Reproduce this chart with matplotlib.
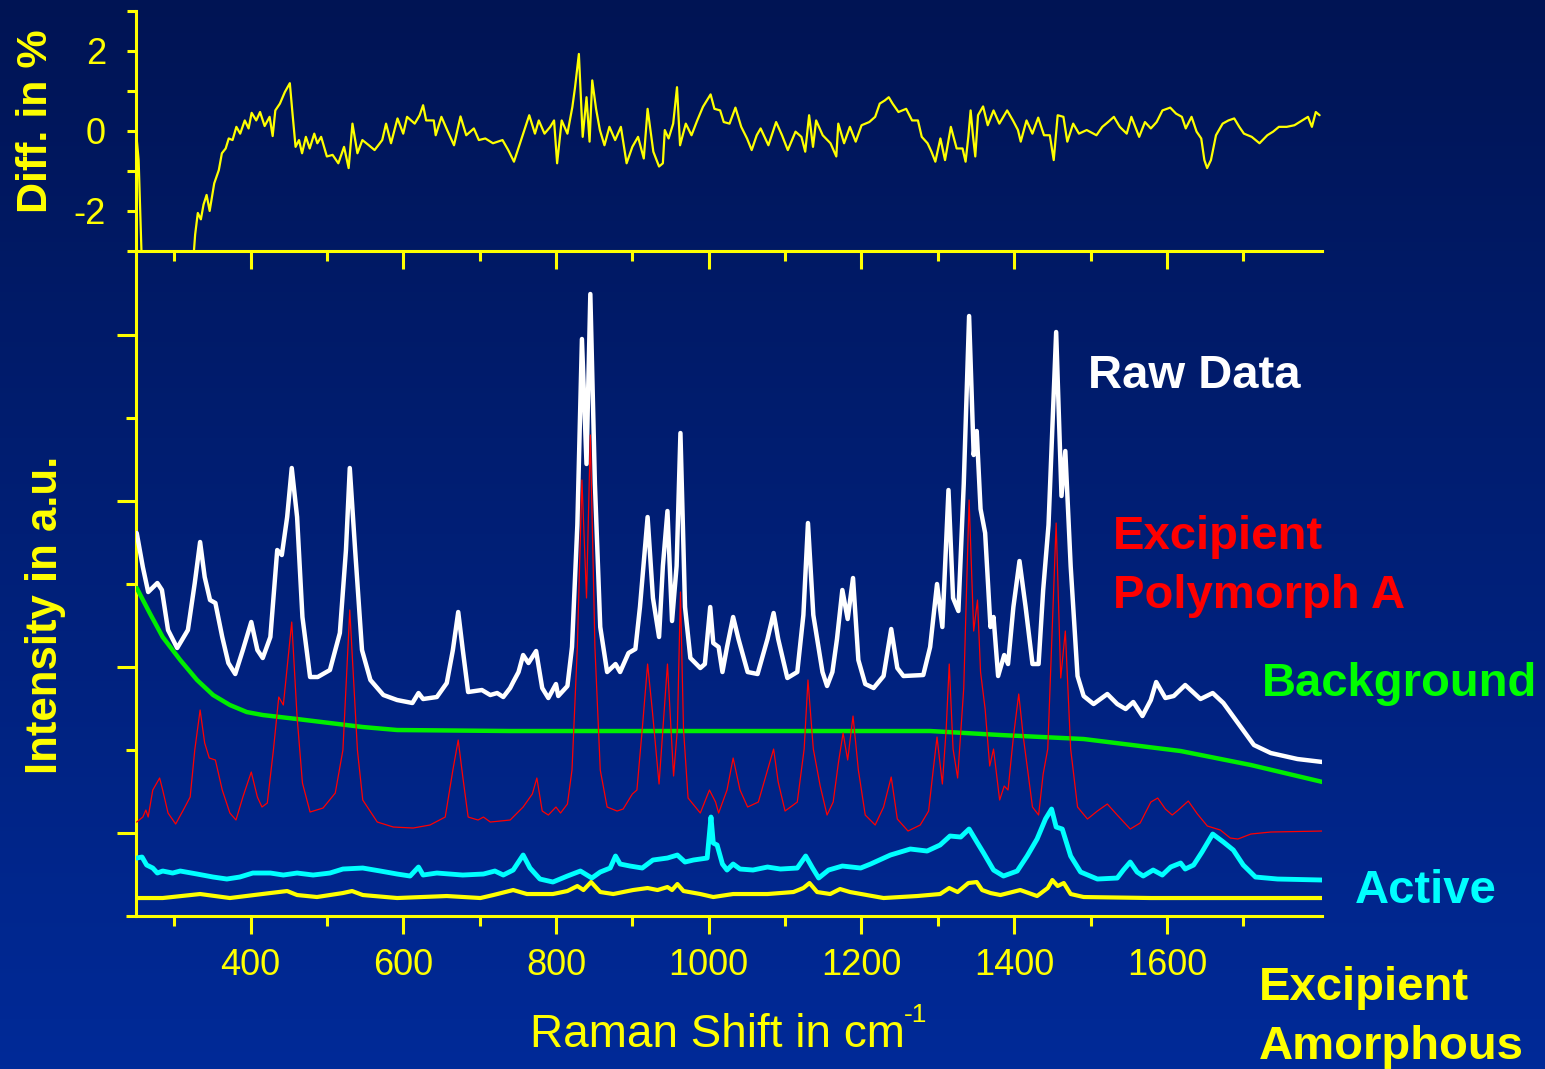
import numpy as np
import matplotlib
matplotlib.use("Agg")
import matplotlib.pyplot as plt

plt.rcParams["font.family"] = ["Liberation Sans", "DejaVu Sans"]
plt.rcParams["axes.unicode_minus"] = False

YELLOW = "#ffff00"

# ---- top panel: difference in % ----
diff_x = [250, 253.5, 258, 324, 327.5, 331, 335, 338.5, 342.5, 346.5, 352.5, 358.5, 362.5,
          367.5, 371.5, 376.5, 381.5, 386.5, 392.5, 397.5, 401.5, 407.5, 412.5, 418.5, 425,
          429, 432.5, 438.5, 445, 451.5, 455, 459, 463.5, 467.5, 472.5, 477.5, 483.5, 487.5,
          492.5, 500, 507.5, 515, 522.5, 528.5, 533.5, 540, 546.5, 555, 562.5, 572.5, 577.5,
          584, 592.5, 600, 605, 615, 621.5, 626, 630, 640, 642.5, 650, 657.5, 666.5, 675,
          682.5, 692.5, 699, 707.5, 717.5, 730, 737.5, 745, 755, 765, 772.5, 777.5, 785,
          792.5, 797.5, 801.5, 807.5, 815, 821.5, 825, 830, 835, 840, 844, 847.5, 852.5,
          857.5, 863.5, 870, 877.5, 885, 892.5, 900, 907.5, 915, 920, 927.5, 935, 940,
          942.5, 947.5, 953.5, 958.5, 962.5, 970, 977.5, 985, 992.5, 1002.5, 1007.5, 1015,
          1019.7, 1027.3, 1035, 1042.6, 1050.2, 1056.3, 1062.9, 1068, 1078.2, 1088.3, 1096,
          1103.6, 1113.7, 1121.4, 1126.4, 1131.5, 1136.6, 1140.7, 1149.3, 1159.5, 1167.1,
          1169.7, 1177.3, 1184.9, 1192.5, 1200.2, 1210.3, 1218, 1224, 1230.7, 1235.8,
          1240.8, 1248.5, 1258.6, 1266.3, 1274, 1279, 1286.6, 1291.7, 1296.8, 1303.4,
          1309.5, 1317.1, 1324.7, 1332.4, 1336.4, 1340, 1343, 1346, 1349.1, 1352.7, 1359.3,
          1365.4, 1373, 1380.6, 1390.8, 1398.4, 1405, 1408.6, 1416.2, 1423.9, 1431.5,
          1439.1, 1446.7, 1451.8, 1457, 1464.5, 1469.6, 1477.3, 1484.9, 1495, 1507.8,
          1515.4, 1523, 1530.6, 1538.3, 1547.4, 1553.5, 1563.7, 1571.3, 1579, 1586.6,
          1594.2, 1604.4, 1612, 1619.6, 1624.7, 1632.3, 1638.9, 1645, 1649.1, 1652.7,
          1657.7, 1664.3, 1673, 1680.6, 1688.2, 1694.8, 1700.9, 1711.1, 1721.3, 1731.5,
          1739.1, 1746.7, 1756.9, 1767, 1777.2, 1784.8, 1789.9, 1795, 1800]
diff_y = [0.0, -0.73, -3.5, -3.5, -2.59, -2.05, -2.21, -1.84, -1.60, -2.0, -1.31, -0.98, -0.56,
          -0.44, -0.19, -0.23, 0.10, -0.07, 0.26, 0.06, 0.45, 0.26, 0.47, 0.12, 0.35,
          -0.13, 0.51, 0.68, 0.97, 1.19, 0.43, -0.40, -0.23, -0.56, -0.15, -0.44, -0.07, -0.31,
          -0.15, -0.64, -0.60, -0.81, -0.40, -0.93, 0.18, -0.56, -0.23, -0.36, -0.48, -0.23, 0.18,
          -0.31, 0.31, -0.07, 0.35, 0.18, 0.39, 0.64, 0.26, 0.26, -0.11, 0.35, 0.02, -0.36, 0.36,
          -0.11, 0.06, -0.23, -0.19, -0.31, -0.23, -0.48, -0.77, -0.19, 0.39, -0.07, 0.26, -0.07,
          0.10, 0.26, -0.81, 0.26, -0.07, 0.60, 1.09, 1.92, -0.15, 0.84, -0.27, 1.26, 0.55,
          0.02, -0.36, 0.10, -0.23, 0.10, -0.81, -0.40, -0.15, -0.69, 0.55, -0.52, -0.89, -0.81,
          0.02, -0.19, 0.18, 1.09, -0.36, 0.18, -0.11, 0.26, 0.60, 0.91, 0.55, 0.51,
          0.22, 0.18, 0.58, 0.10, -0.19, -0.48, -0.11, 0.06, -0.36, 0.22, -0.11,
          -0.48, -0.02, -0.15, -0.52, 0.39, -0.40, 0.26, -0.11, -0.31, -0.64,
          0.18, -0.31, 0.10, -0.27, 0.14, 0.22, 0.35, 0.68, 0.76, 0.84,
          0.68, 0.47, 0.55, 0.26, 0.26, -0.15, -0.31, -0.52, -0.77, -0.19,
          -0.73, 0.10, -0.44, -0.44, -0.77, -0.15, 0.51, -0.11, -0.64, 0.39, 0.61,
          0.14, 0.51, 0.18, 0.51, 0.26, 0.02, -0.27, 0.26, -0.07, 0.33,
          -0.11, -0.11, -0.73, 0.39, 0.35, -0.27, 0.18, -0.07, 0.02, -0.11,
          0.10, 0.22, 0.35, 0.10, -0.07, 0.35, -0.15, 0.22, 0.06, 0.22,
          0.51, 0.58, 0.43, 0.35, 0.06, 0.35, -0.02, -0.19, -0.73, -0.93,
          -0.73, -0.11, 0.18, 0.26, 0.31, 0.10, -0.07, -0.15, -0.31, -0.11,
          -0.02, 0.10, 0.10, 0.14, 0.26, 0.35, 0.10, 0.47, 0.39]

# ---- bottom panel: spectra (Raman shift in cm-1, intensity in a.u.) ----
raw_x = [251, 259, 266, 278, 284, 292, 304, 318, 327, 334, 340, 347, 354, 363, 371, 380, 390,
         401, 409, 416, 426, 435, 441, 448, 454, 461, 468, 478, 488, 504, 517, 525, 530, 537,
         546, 557, 574, 592, 612, 620, 626, 644, 657, 665, 672, 678, 685, 703, 714, 723, 731,
         740, 744, 751, 757, 764, 774, 782, 790, 800, 803, 815, 821, 828, 834, 840, 845, 851,
         858, 867, 878, 884, 895, 904, 910, 920, 927, 935, 940, 946, 952, 958, 963, 969, 976,
         989, 995, 1002, 1006, 1013, 1018, 1024, 1032, 1039, 1051, 1064, 1077, 1085, 1091,
         1103, 1116, 1124, 1130, 1137, 1149, 1155, 1162, 1168, 1175, 1182, 1189, 1196, 1205,
         1216, 1229, 1239, 1247, 1255, 1281, 1290, 1299, 1306, 1314, 1320, 1327, 1334, 1341,
         1347, 1351, 1356, 1362, 1369, 1373, 1379, 1387, 1392, 1399, 1407, 1415, 1424, 1432,
         1438, 1445, 1455, 1462, 1467, 1474, 1483, 1491, 1504, 1522, 1535, 1546, 1556, 1568,
         1579, 1586, 1598, 1609, 1624, 1644, 1660, 1674, 1693, 1714, 1736, 1771, 1804]
raw_y = [383, 349, 324, 333, 326, 286, 268, 286, 333, 374, 339, 316, 313, 279, 253, 242, 266,
         294, 266, 258, 279, 366, 361, 399, 448, 399, 299, 239, 239, 246, 283, 366, 448, 366,
         266, 236, 221, 216, 213, 223, 217, 219, 233, 266, 304, 266, 224, 226, 221, 223, 219,
         228, 234, 244, 261, 253, 265, 228, 218, 232, 220, 230, 269, 391, 577, 452, 622, 432,
         289, 244, 252, 244, 263, 267, 309, 399, 318, 279, 350, 405, 295, 350, 483, 309, 258,
         248, 252, 309, 273, 269, 244, 269, 299, 277, 244, 242, 277, 303, 277,
         238, 244, 301, 393, 301, 244, 230, 244, 277, 326, 297, 338, 256, 232,
         228, 240, 287, 248, 240, 241, 269, 332, 289, 426, 318, 305, 432, 600,
         461, 485, 407, 383, 289, 299, 240, 261, 252, 309, 355, 309, 252, 252,
         326, 391, 584, 420, 465, 350, 240, 220, 212, 222, 212, 207, 214, 200,
         216, 234, 218, 220, 231, 217, 223, 213, 193, 171, 163, 157, 154]

polyA_x = [251, 259, 263, 266, 272, 281, 285, 292, 302, 312, 321, 327, 334, 340, 346, 354, 363,
           373, 381, 390, 401, 409, 415, 422, 430, 437, 443, 454, 461, 468, 478, 495, 511, 521,
           530, 540, 547, 566, 587, 613, 635, 655, 665, 672, 678, 685, 698, 705, 714, 740, 757,
           769, 775, 782, 790, 800, 806, 815, 821, 828, 834, 840, 845, 851, 858, 867, 880, 888,
           900, 906, 913, 920, 926, 935, 940, 946, 954, 959, 963, 967, 973, 989, 1001, 1009,
           1013, 1024, 1032, 1041, 1051, 1065, 1077, 1085, 1091, 1100, 1116, 1125, 1130, 1137,
           1146, 1155, 1163, 1170, 1176, 1182, 1189, 1196, 1205, 1218, 1229, 1239, 1247, 1261,
           1277, 1288, 1294, 1299, 1306, 1311, 1315, 1320, 1326, 1334, 1341, 1347, 1352, 1356,
           1362, 1368, 1373, 1381, 1387, 1392, 1399, 1406, 1412, 1424, 1432, 1438, 1444, 1447,
           1455, 1461, 1467, 1474, 1483, 1496, 1509, 1522, 1535, 1552, 1565, 1579, 1588, 1598,
           1607, 1615, 1628, 1640, 1653, 1670, 1683, 1693, 1710, 1736, 1804]
polyA_y = [94, 99, 106, 99, 126, 138, 126, 103, 92, 106, 119, 166, 206, 173, 158, 156, 126,
           103, 96, 119, 144, 119, 109, 113, 166, 219, 211, 294, 199, 133, 104, 108, 123, 166,
           306, 166, 116, 94, 89, 88, 91, 99, 146, 176, 139, 99, 96, 99, 94, 96, 109,
           122, 138, 105, 101, 109, 103, 112, 146, 269, 436, 318, 481, 269, 146, 109, 105, 107,
           122, 126, 187, 252, 207, 132, 187, 252, 140, 187, 324, 187, 118, 103, 126, 114,
           103, 126, 158, 126, 109, 114, 146, 167, 134, 105, 114, 167, 236, 167,
           130, 101, 114, 154, 183, 156, 200, 146, 101, 91, 109, 139, 97, 85,
           91, 105, 146, 179, 132, 187, 252, 167, 138, 228, 416, 285, 316, 244,
           207, 150, 167, 116, 130, 126, 179, 222, 179, 109, 101, 142, 167, 228,
           393, 238, 285, 167, 109, 97, 105, 112, 101, 87, 93, 114, 118, 107,
           101, 106, 115, 102, 90, 86, 78, 77, 82, 84, 85]

bg_x = [251, 268, 285, 308, 330, 351, 373, 395, 416, 461, 504, 547, 592, 740, 1290, 1382,
        1491, 1618, 1710, 1804]
bg_y = [328, 303, 279, 256, 236, 221, 211, 204, 201, 197, 193, 189, 186, 185, 185, 181,
        177, 165, 151, 134]

active_x = [251, 258, 264, 272, 278, 285, 298, 308, 330, 351, 369, 386, 403, 426, 443, 461,
            482, 504, 521, 547, 570, 592, 609, 620, 626, 644, 678, 705, 720, 731, 744, 757,
            766, 779, 796, 815, 832, 847, 858, 871, 878, 884, 897, 913, 927, 946, 959, 969,
            980, 998, 1003, 1006, 1011, 1018, 1024, 1032, 1041, 1058, 1077, 1094, 1116, 1127,
            1136, 1144, 1157, 1175, 1199, 1212, 1238, 1264, 1286, 1303, 1316, 1330, 1341, 1352,
            1360, 1373, 1386, 1404, 1417, 1430, 1441, 1449, 1455, 1463, 1474, 1487, 1509, 1535,
            1543, 1552, 1561, 1569, 1582, 1594, 1605, 1618, 1624, 1635, 1646, 1660, 1674, 1687,
            1700, 1716, 1745, 1804]
active_y = [58, 59, 51, 48, 43, 45, 43, 45, 42, 39, 37, 39, 43, 43, 41, 43,
            41, 43, 47, 48, 45, 42, 40, 49, 41, 43, 41, 42, 45, 41, 46, 61,
            48, 37, 34, 40, 45, 38, 44, 48, 60, 52, 50, 48, 56, 58, 61, 54,
            56, 58, 99, 73, 71, 52, 46, 52, 47, 46, 49, 47, 48, 60,
            48, 38, 46, 50, 48, 52, 61, 67, 65, 71, 80, 79, 87, 73,
            63, 46, 40, 45, 60, 77, 97, 107, 89, 87, 60, 44, 37, 38,
            46, 54, 44, 40, 46, 41, 49, 53, 47, 51, 64, 82, 74, 66,
            51, 39, 37, 36]

amorph_x = [251, 285, 334, 373, 426, 448, 461, 487, 521, 533, 547, 592, 657, 701, 718, 744,
            762, 796, 815, 828, 836, 846, 858, 875, 901, 920, 933, 946, 952, 959, 967, 989,
            1006, 1032, 1077, 1111, 1124, 1132, 1142, 1159, 1172, 1185, 1229, 1273, 1303, 1315,
            1326, 1340, 1351, 1358, 1369, 1382, 1408, 1430, 1444, 1450, 1457, 1465, 1474, 1491,
            1579, 1804]
amorph_y = [18, 18, 22, 18, 23, 25, 21, 19, 23, 25, 21, 18, 20, 18, 21, 26,
            22, 22, 25, 30, 26, 34, 24, 22, 26, 28, 26, 29, 26, 32, 25, 22,
            19, 22, 22, 24, 28, 33, 24, 22, 27, 24, 18, 20, 22, 28,
            24, 33, 34, 26, 23, 21, 26, 20, 28, 36, 30, 33, 22, 19,
            18, 18]

x_major = [400, 600, 800, 1000, 1200, 1400, 1600]
x_minor = [300, 500, 700, 900, 1100, 1300, 1500, 1700]

fig = plt.figure(figsize=(15.45, 10.69), dpi=100)

# gradient background
bg_ax = fig.add_axes([0, 0, 1, 1], zorder=-10)
grad = np.linspace(0, 1, 256).reshape(-1, 1)
top_c = np.array([0, 20, 84]) / 255
bot_c = np.array([0, 42, 152]) / 255
img = top_c + (bot_c - top_c) * grad[:, :, None]
bg_ax.imshow(img, aspect="auto", extent=[0, 1, 0, 1], origin="upper")
bg_ax.axis("off")

ax1 = fig.add_axes([0.0880, 0.7652, 0.7676, 0.2248])
ax2 = fig.add_axes([0.0880, 0.1431, 0.7676, 0.6221])

for ax in (ax1, ax2):
    ax.set_facecolor("none")
    ax.spines["top"].set_visible(False)
    ax.spines["right"].set_visible(False)
    for s in ("left", "bottom"):
        ax.spines[s].set_color(YELLOW)
        ax.spines[s].set_linewidth(2.2)
    ax.set_xlim(250, 1803)
    ax.set_xticks(x_major)
    ax.set_xticks(x_minor, minor=True)

line_kw = dict(solid_joinstyle="round", solid_capstyle="round")

# top panel
ax1.plot(diff_x, diff_y, color=YELLOW, lw=1.6, **line_kw)
ax1.set_ylim(-3, 3)
ax1.set_yticks([-2, 0, 2])
ax1.set_yticks([-3, -1, 1, 3], minor=True)
ax1.tick_params(axis="y", which="both", direction="out", length=6.5, width=2.2,
                color=YELLOW, labelcolor=YELLOW, labelsize=26, pad=15)
ax1.tick_params(axis="x", which="major", direction="out", length=13, width=2.2,
                color=YELLOW, labelbottom=False)
ax1.tick_params(axis="x", which="minor", direction="out", length=7, width=2.2, color=YELLOW)

# bottom panel
ax2.plot(raw_x, raw_y, color="white", lw=3.2, zorder=3, **line_kw)
ax2.plot(bg_x, bg_y, color="#00ee00", lw=3.2, zorder=4, **line_kw)
ax2.plot(polyA_x, polyA_y, color="red", lw=0.9, zorder=5)
ax2.plot(active_x, active_y, color="cyan", lw=3.5, zorder=6, **line_kw)
ax2.plot(amorph_x, amorph_y, color=YELLOW, lw=3.0, zorder=7, **line_kw)
ax2.set_ylim(0, 665)
ax2.set_yticks([83, 249, 415, 581])
ax2.set_yticks([0, 166, 332, 498], minor=True)
ax2.tick_params(axis="y", which="major", direction="out", length=13.7, width=2.2,
                color=YELLOW, labelleft=False)
ax2.tick_params(axis="y", which="minor", direction="out", length=7, width=2.2, color=YELLOW)
ax2.tick_params(axis="x", which="major", direction="out", length=13, width=2.2,
                color=YELLOW, labelcolor=YELLOW, labelsize=26, pad=10)
ax2.tick_params(axis="x", which="minor", direction="out", length=7, width=2.2, color=YELLOW)

# axis titles
fig.text(530 / 1545, 1 - 1047 / 1069, "Raman Shift in cm", color=YELLOW,
         fontsize=33, ha="left", va="baseline")
fig.text(904 / 1545, 1 - 1022 / 1069, "-1", color=YELLOW,
         fontsize=19, ha="left", va="baseline")
fig.text(36 / 1545, 1 - 121.5 / 1069, "Diff. in %", color=YELLOW, fontsize=31,
         fontweight="bold", rotation=90, ha="center", va="center")
fig.text(46 / 1545, 1 - 615 / 1069, "Intensity in a.u.", color=YELLOW, fontsize=31.5,
         fontweight="bold", rotation=90, ha="center", va="center")

# curve labels
labels = [
    ("Raw Data", 1088, 388, "white"),
    ("Excipient", 1113, 549, "red"),
    ("Polymorph A", 1113, 608, "red"),
    ("Background", 1262, 696, "#00ff00"),
    ("Active", 1355, 903, "cyan"),
    ("Excipient", 1259, 1000, YELLOW),
    ("Amorphous", 1259, 1059, YELLOW),
]
for txt, px, py, col in labels:
    fig.text(px / 1545, 1 - py / 1069, txt, color=col, fontsize=34,
             fontweight="bold", ha="left", va="baseline")

fig.savefig("out.png", dpi=100)
